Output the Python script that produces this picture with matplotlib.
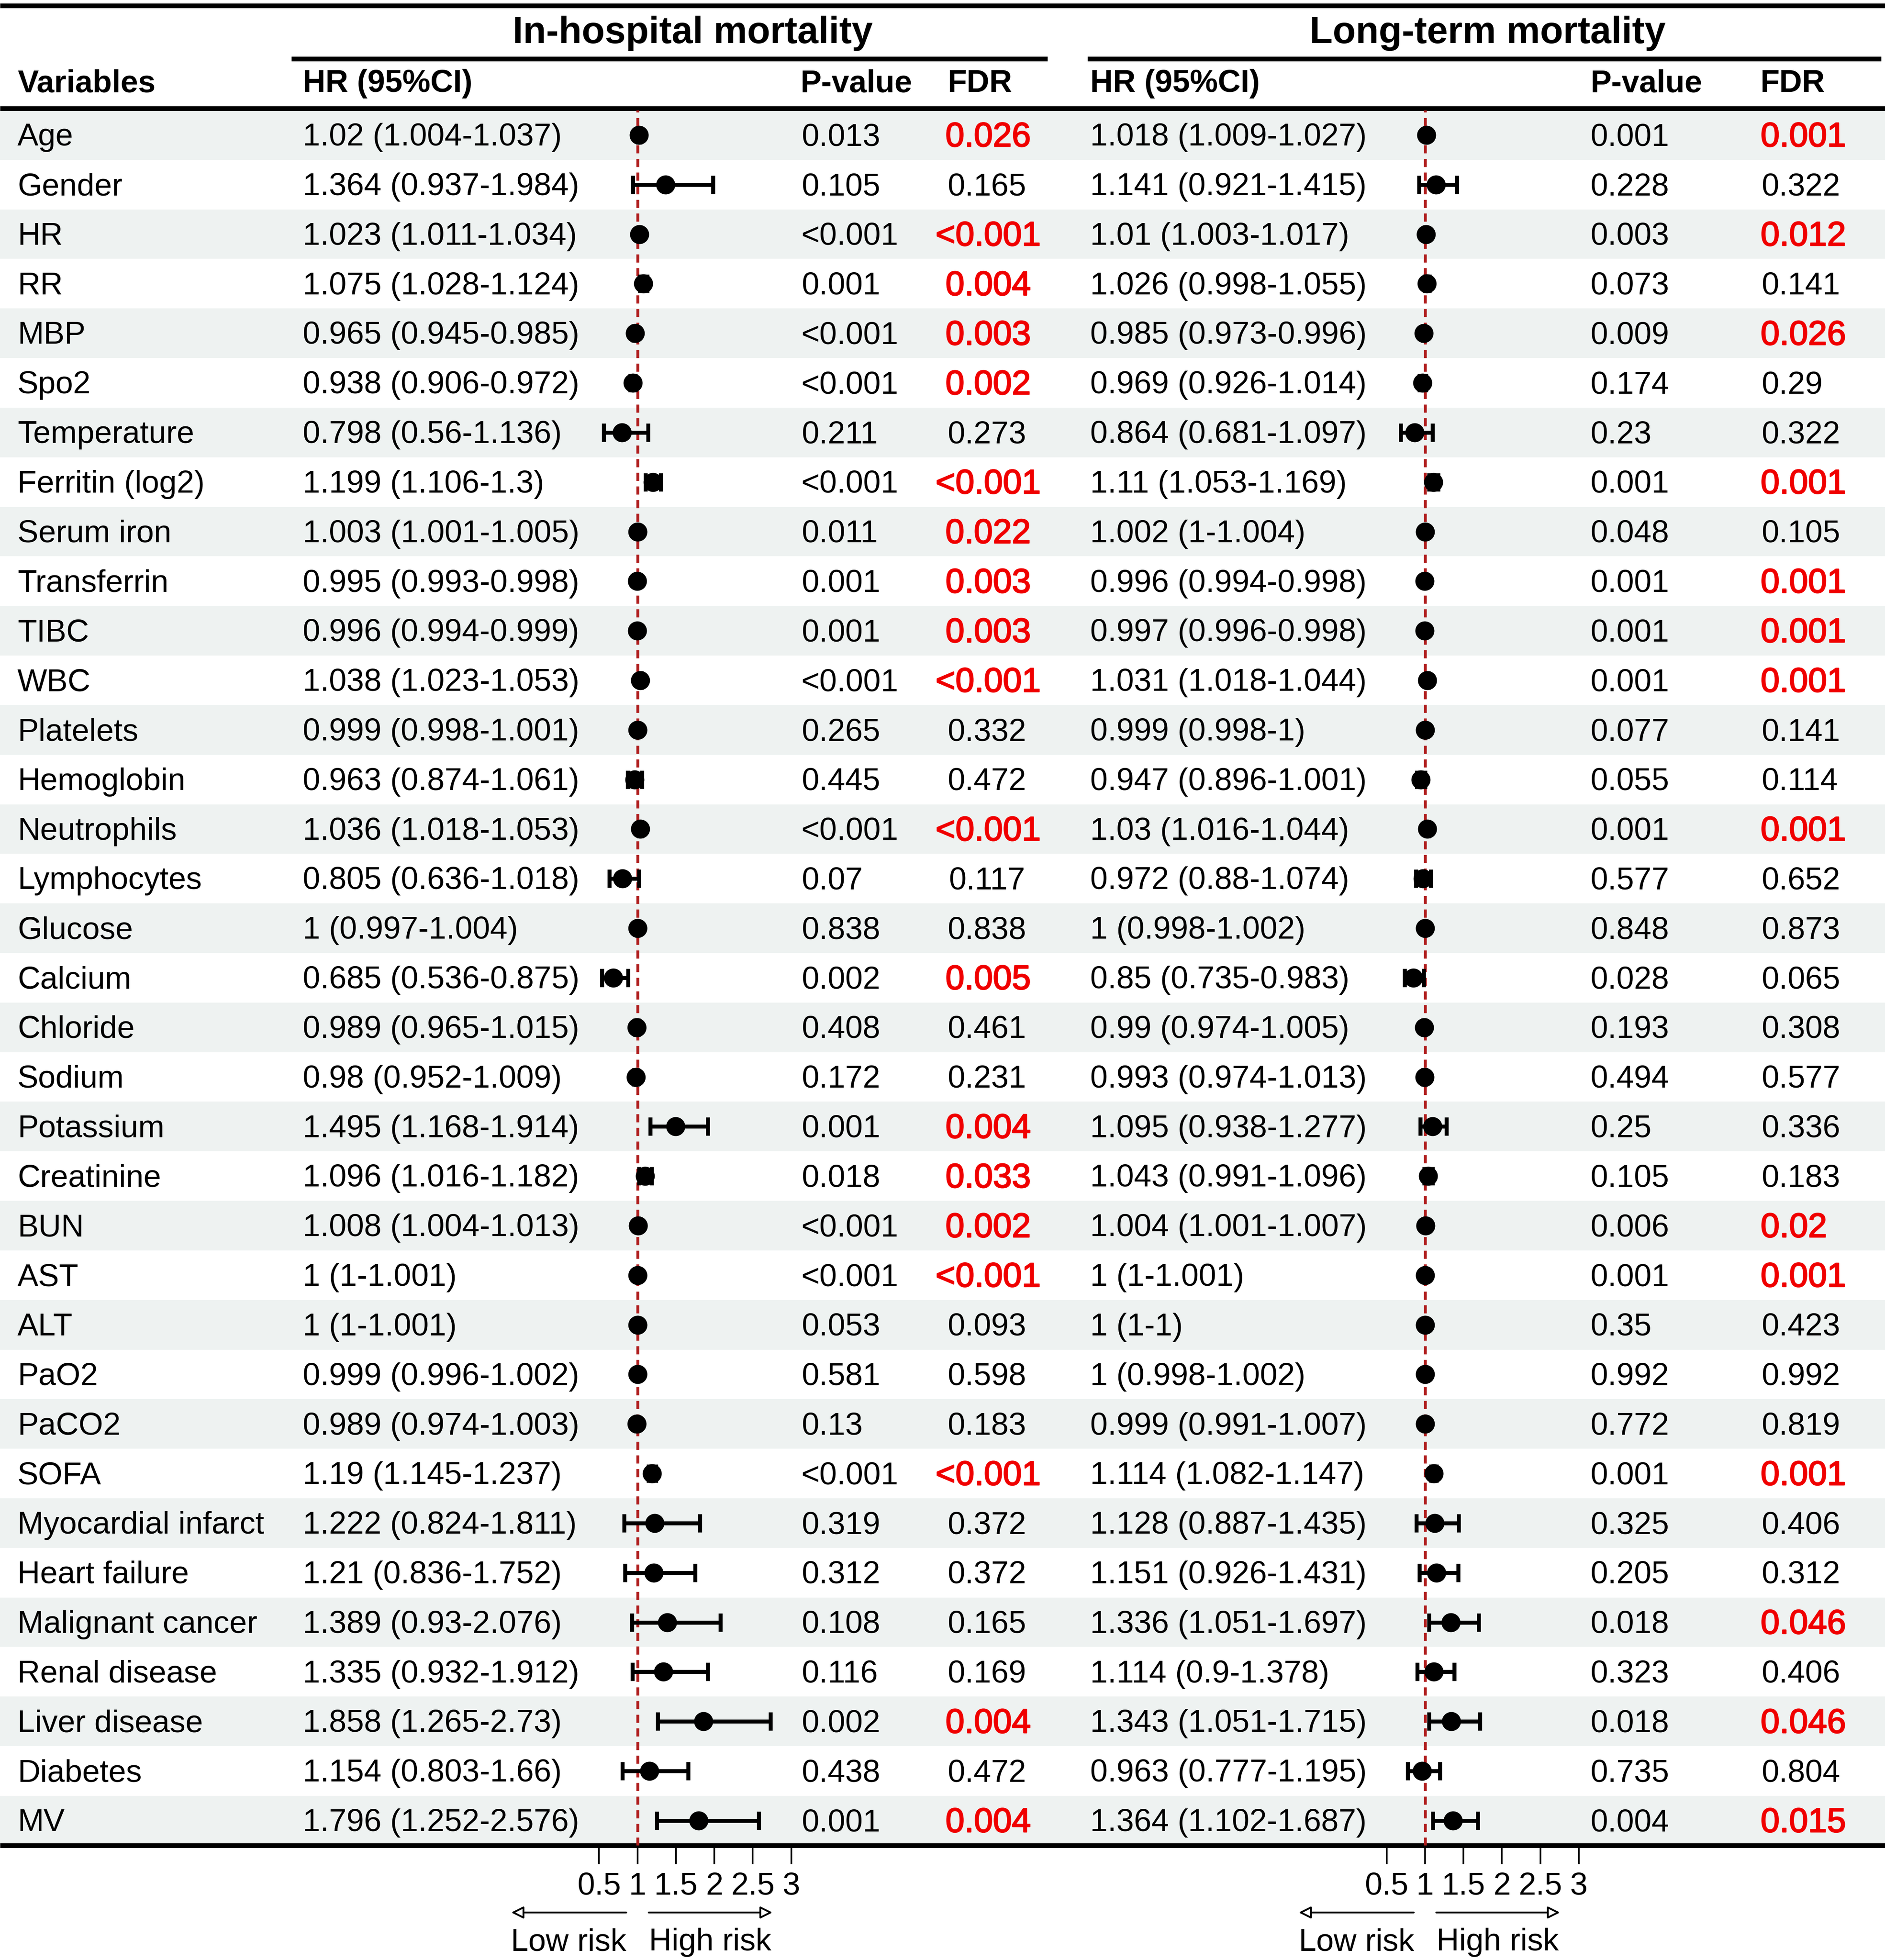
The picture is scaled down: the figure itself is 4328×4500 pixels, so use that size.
import matplotlib
matplotlib.use("Agg")
import matplotlib.pyplot as plt
import matplotlib.patheffects as pe
import numpy as np

plt.rcParams['font.family'] = ['Liberation Sans', 'DejaVu Sans']

variables = ["Age", "Gender", "HR", "RR", "MBP", "Spo2", "Temperature", "Ferritin (log2)",
             "Serum iron", "Transferrin", "TIBC", "WBC", "Platelets", "Hemoglobin",
             "Neutrophils", "Lymphocytes", "Glucose", "Calcium", "Chloride", "Sodium",
             "Potassium", "Creatinine", "BUN", "AST", "ALT", "PaO2", "PaCO2", "SOFA",
             "Myocardial infarct", "Heart failure", "Malignant cancer", "Renal disease",
             "Liver disease", "Diabetes", "MV"]

# In-hospital mortality
hosp_hr = [1.02, 1.364, 1.023, 1.075, 0.965, 0.938, 0.798, 1.199, 1.003, 0.995, 0.996, 1.038,
           0.999, 0.963, 1.036, 0.805, 1, 0.685, 0.989, 0.98, 1.495, 1.096, 1.008, 1, 1,
           0.999, 0.989, 1.19, 1.222, 1.21, 1.389, 1.335, 1.858, 1.154, 1.796]
hosp_lo = [1.004, 0.937, 1.011, 1.028, 0.945, 0.906, 0.56, 1.106, 1.001, 0.993, 0.994, 1.023,
           0.998, 0.874, 1.018, 0.636, 0.997, 0.536, 0.965, 0.952, 1.168, 1.016, 1.004, 1, 1,
           0.996, 0.974, 1.145, 0.824, 0.836, 0.93, 0.932, 1.265, 0.803, 1.252]
hosp_hi = [1.037, 1.984, 1.034, 1.124, 0.985, 0.972, 1.136, 1.3, 1.005, 0.998, 0.999, 1.053,
           1.001, 1.061, 1.053, 1.018, 1.004, 0.875, 1.015, 1.009, 1.914, 1.182, 1.013, 1.001, 1.001,
           1.002, 1.003, 1.237, 1.811, 1.752, 2.076, 1.912, 2.73, 1.66, 2.576]
hosp_p = ["0.013", "0.105", "<0.001", "0.001", "<0.001", "<0.001", "0.211", "<0.001", "0.011",
          "0.001", "0.001", "<0.001", "0.265", "0.445", "<0.001", "0.07", "0.838", "0.002",
          "0.408", "0.172", "0.001", "0.018", "<0.001", "<0.001", "0.053", "0.581", "0.13",
          "<0.001", "0.319", "0.312", "0.108", "0.116", "0.002", "0.438", "0.001"]
hosp_fdr = ["0.026", "0.165", "<0.001", "0.004", "0.003", "0.002", "0.273", "<0.001", "0.022",
            "0.003", "0.003", "<0.001", "0.332", "0.472", "<0.001", "0.117", "0.838", "0.005",
            "0.461", "0.231", "0.004", "0.033", "0.002", "<0.001", "0.093", "0.598", "0.183",
            "<0.001", "0.372", "0.372", "0.165", "0.169", "0.004", "0.472", "0.004"]

# Long-term mortality
long_hr = [1.018, 1.141, 1.01, 1.026, 0.985, 0.969, 0.864, 1.11, 1.002, 0.996, 0.997, 1.031,
           0.999, 0.947, 1.03, 0.972, 1, 0.85, 0.99, 0.993, 1.095, 1.043, 1.004, 1, 1,
           1, 0.999, 1.114, 1.128, 1.151, 1.336, 1.114, 1.343, 0.963, 1.364]
long_lo = [1.009, 0.921, 1.003, 0.998, 0.973, 0.926, 0.681, 1.053, 1, 0.994, 0.996, 1.018,
           0.998, 0.896, 1.016, 0.88, 0.998, 0.735, 0.974, 0.974, 0.938, 0.991, 1.001, 1, 1,
           0.998, 0.991, 1.082, 0.887, 0.926, 1.051, 0.9, 1.051, 0.777, 1.102]
long_hi = [1.027, 1.415, 1.017, 1.055, 0.996, 1.014, 1.097, 1.169, 1.004, 0.998, 0.998, 1.044,
           1, 1.001, 1.044, 1.074, 1.002, 0.983, 1.005, 1.013, 1.277, 1.096, 1.007, 1.001, 1,
           1.002, 1.007, 1.147, 1.435, 1.431, 1.697, 1.378, 1.715, 1.195, 1.687]
long_p = ["0.001", "0.228", "0.003", "0.073", "0.009", "0.174", "0.23", "0.001", "0.048",
          "0.001", "0.001", "0.001", "0.077", "0.055", "0.001", "0.577", "0.848", "0.028",
          "0.193", "0.494", "0.25", "0.105", "0.006", "0.001", "0.35", "0.992", "0.772",
          "0.001", "0.325", "0.205", "0.018", "0.323", "0.018", "0.735", "0.004"]
long_fdr = ["0.001", "0.322", "0.012", "0.141", "0.026", "0.29", "0.322", "0.001", "0.105",
            "0.001", "0.001", "0.001", "0.141", "0.114", "0.001", "0.652", "0.873", "0.065",
            "0.308", "0.577", "0.336", "0.183", "0.02", "0.001", "0.423", "0.992", "0.819",
            "0.001", "0.406", "0.312", "0.046", "0.406", "0.046", "0.804", "0.015"]

x_ticks = [0.5, 1, 1.5, 2, 2.5, 3]
x_ticklabels = ["0.5", "1", "1.5", "2", "2.5", "3"]

# ---------------- layout (in reference-pixel units) ----------------
W, H = 1508.0, 1568.0
ROW0, ROWH = 108.0, 39.66
TDY = 2.0          # small downward nudge for text
n = len(variables)
FS = 17.35
RFS = 18.8
SHADE = "#EEF2F1"
RED = "#F00000"
DASH = "#B01E1E"
SCALE = 61.5   # px per HR unit
XMIN, XMAX = 0.4, 3.1

def ry(i):
    return ROW0 + ROWH * i

def fmt(v):
    return f"{v:g}"

def is_sig(s):
    if s.startswith("<"):
        return True
    return float(s) < 0.05

fig = plt.figure(figsize=(4328 / 300, 4500 / 300), dpi=300)
tab = fig.add_axes([0, 0, 1, 1])
tab.set_xlim(0, W)
tab.set_ylim(H, 0)
tab.axis("off")

# shading bands
for i in range(n):
    if i % 2 == 0:
        tab.axhspan(ry(i) - ROWH / 2, ry(i) + ROWH / 2, xmin=0, xmax=1, color=SHADE, lw=0, zorder=0)

# rules
LW = 2.6
tab.plot([0, W], [4.6, 4.6], color="black", lw=LW, solid_capstyle="butt")
tab.plot([233, 838], [47, 47], color="black", lw=LW, solid_capstyle="butt")
tab.plot([870, 1505], [47, 47], color="black", lw=LW, solid_capstyle="butt")
tab.plot([0, W], [86.8, 86.8], color="black", lw=LW, solid_capstyle="butt")
tab.plot([0, W], [1476.3, 1476.3], color="black", lw=LW, solid_capstyle="butt", zorder=5)

# titles
tab.text(554, 24.5 + TDY, "In-hospital mortality", fontsize=20.8, fontweight="bold", ha="center", va="center")
tab.text(1190, 24.5 + TDY, "Long-term mortality", fontsize=20.8, fontweight="bold", ha="center", va="center")

# header row
HY = 65 + TDY
for x, s in [(14, "Variables"), (242, "HR (95%CI)"), (640, "P-value"), (758, "FDR"),
             (872, "HR (95%CI)"), (1272, "P-value"), (1408, "FDR")]:
    tab.text(x, HY, s, fontsize=FS, fontweight="bold", ha="left", va="center")

red_fx = [pe.withStroke(linewidth=0.6, foreground=RED)]

# body text
for i in range(n):
    y = ry(i) + TDY
    tab.text(14, y, variables[i], fontsize=FS, ha="left", va="center")
    tab.text(242, y, f"{fmt(hosp_hr[i])} ({fmt(hosp_lo[i])}-{fmt(hosp_hi[i])})", fontsize=FS, ha="left", va="center")
    tab.text(641, y, hosp_p[i], fontsize=FS, ha="left", va="center")
    if is_sig(hosp_fdr[i]):
        tab.text(790.5, y, hosp_fdr[i], fontsize=RFS, color=RED, ha="center", va="center", path_effects=red_fx)
    else:
        tab.text(789.5, y, hosp_fdr[i], fontsize=FS, ha="center", va="center")
    tab.text(872, y, f"{fmt(long_hr[i])} ({fmt(long_lo[i])}-{fmt(long_hi[i])})", fontsize=FS, ha="left", va="center")
    tab.text(1272, y, long_p[i], fontsize=FS, ha="left", va="center")
    if is_sig(long_fdr[i]):
        tab.text(1408.5, y, long_fdr[i], fontsize=RFS, color=RED, ha="left", va="center", path_effects=red_fx)
    else:
        tab.text(1409, y, long_fdr[i], fontsize=FS, ha="left", va="center")

# forest panels
def forest(x_at_one, hr, lo, hi):
    x0 = x_at_one + (XMIN - 1) * SCALE
    x1 = x_at_one + (XMAX - 1) * SCALE
    ytop = ry(-0.5)
    ybot = ry(n - 0.5)
    ax = fig.add_axes([x0 / W, 1 - ybot / H, (x1 - x0) / W, (ybot - ytop) / H])
    ax.set_facecolor("none")
    ax.set_xlim(XMIN, XMAX)
    ax.set_ylim(n - 0.5, -0.5)
    for sp in ax.spines.values():
        sp.set_visible(False)
    ax.set_yticks([])
    ax.set_xticks(x_ticks)
    ax.set_xticklabels(x_ticklabels, fontsize=FS)
    ax.tick_params(axis="x", length=10.3, width=0.9, pad=4.3, direction="out")
    ax.axvline(1, color=DASH, lw=1.6, ls=(0, (2.8, 1.9)), zorder=1)
    hr = np.array(hr); lo = np.array(lo); hi = np.array(hi)
    yy = np.arange(n)
    ax.errorbar(hr, yy, xerr=[hr - lo, hi - hr], fmt="o", color="black", ms=9.5,
                elinewidth=2.2, capsize=5, capthick=2.2, zorder=3)
    return ax

forest(510, hosp_hr, hosp_lo, hosp_hi)
forest(1140, long_hr, long_lo, long_hi)

# risk arrows and labels
AY = 1530
LY = 1552 + TDY
for off in (0, 630):
    ap = dict(arrowstyle="-|>,head_length=0.4,head_width=0.2", fc="white", ec="black",
              lw=1.0, shrinkA=0, shrinkB=0, mutation_scale=14)
    tab.annotate("", xy=(409 + off, AY), xytext=(501 + off, AY), arrowprops=ap)
    tab.annotate("", xy=(618 + off, AY), xytext=(519 + off, AY), arrowprops=ap)
    tab.text(455 + off, LY, "Low risk", fontsize=FS, ha="center", va="center")
    tab.text(568 + off, LY, "High risk", fontsize=FS, ha="center", va="center")

fig.savefig("out.png", dpi=300)
